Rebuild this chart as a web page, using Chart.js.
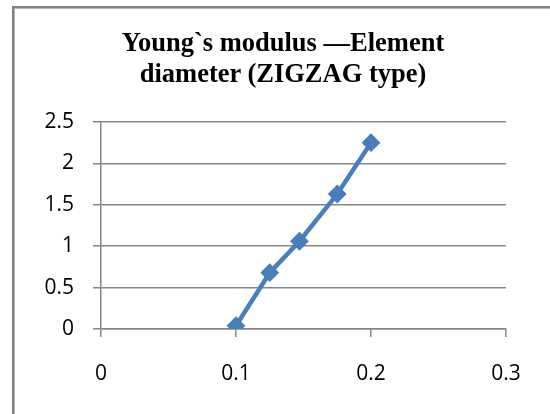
<!DOCTYPE html>
<html lang="en">
<head>
  <meta charset="UTF-8">
  <title>Young`s modulus — Element diameter (ZIGZAG type)</title>
  <script src="https://cdn.jsdelivr.net/npm/chart.js"></script>
  <style>
    html, body { margin: 0; padding: 0; background: #fff; overflow: hidden; }
    .frame {
      position: absolute; left: 12px; top: 6px; width: 600px; height: 460px;
      border: 2px solid #7f7f7f; box-shadow: inset 1px 1px 0 #b5b5b5;
    }
    .title {
      position: absolute; left: 0; top: 27px; width: 566px; text-align: center;
      font: bold 26.5px/31px "Liberation Serif", "Times New Roman", serif; color: #000;
    }
    #chart { position: absolute; left: 0; top: 0; }
  </style>
</head>
<body>
  <div class="frame"></div>
  <canvas id="chart" width="550" height="414"></canvas>
  <div class="title">Young`s modulus —Element<br>diameter (ZIGZAG type)</div>

  <script>
    // values
    const diameters = [0.1, 0.125, 0.147, 0.175, 0.2];
    const modulus = [0.04, 0.68, 1.06, 1.63, 2.25];
    const xTicks = [0, 0.1, 0.2, 0.3];
    const yTicks = [0, 0.5, 1, 1.5, 2, 2.5];

    const lineColor = '#4A7EBB';
    const gridColor = '#868686';
    const tickFont = { family: "'Open Sans', 'Noto Sans', sans-serif", size: 21 };

    function drawChart() {
      const points = diameters.map((d, i) => ({ x: d, y: modulus[i] }));

      new Chart(document.getElementById('chart'), {
        type: 'scatter',
        data: {
          datasets: [{
            data: points,
            showLine: true,
            borderColor: lineColor,
            backgroundColor: lineColor,
            borderWidth: 4.5,
            pointStyle: 'rectRot',
            pointRadius: 8,
            pointBorderWidth: 2,
            pointBorderColor: lineColor,
            pointBackgroundColor: lineColor
          }]
        },
        options: {
          responsive: false,
          animation: false,
          layout: { padding: { left: 0, right: 44, top: 122, bottom: 0 } },
          plugins: { legend: { display: false }, tooltip: { enabled: false } },
          scales: {
            x: {
              type: 'linear',
              min: xTicks[0],
              max: xTicks[xTicks.length - 1],
              afterBuildTicks: s => { s.ticks = xTicks.map(v => ({ value: v })); },
              afterFit: s => { s.height = 85; },
              ticks: {
                color: '#000', font: tickFont, padding: 24,
                maxRotation: 0, callback: v => String(+v.toFixed(2))
              },
              grid: { drawOnChartArea: false, drawTicks: true, tickLength: 8, color: gridColor, lineWidth: 1.5 },
              border: { color: gridColor, width: 1.5 }
            },
            y: {
              min: yTicks[0],
              max: yTicks[yTicks.length - 1],
              afterBuildTicks: s => { s.ticks = yTicks.map(v => ({ value: v })); },
              afterFit: s => { s.width = 101; },
              ticks: {
                color: '#000', font: tickFont, padding: 19,
                callback: v => String(+v.toFixed(2))
              },
              grid: { drawTicks: true, tickLength: 8, color: gridColor, lineWidth: 1.5 },
              border: { color: gridColor, width: 1.5 }
            }
          }
        }
      });
    }

    // make sure the tick font is ready before the canvas draws
    document.fonts.load('21px "Open Sans"').then(drawChart, drawChart);
  </script>
</body>
</html>
